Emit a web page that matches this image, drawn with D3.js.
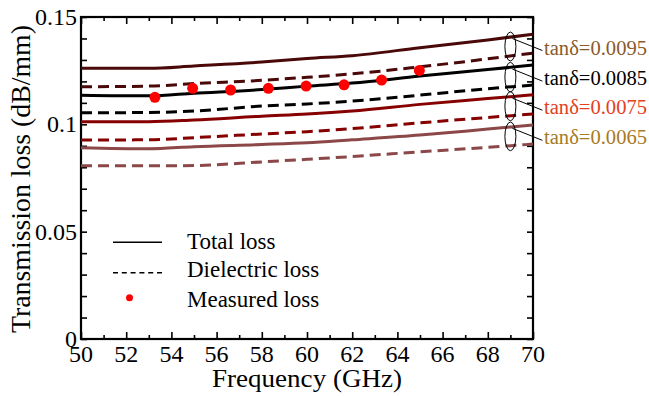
<!DOCTYPE html>
<html><head><meta charset="utf-8">
<script src="https://cdn.jsdelivr.net/npm/d3@7"></script>
<style>body{margin:0;background:#fff}svg{display:block}</style>
</head><body>
<svg id="c" width="649" height="396" font-family="'Liberation Serif', 'DejaVu Serif', 'Times New Roman', serif"></svg>
<script>
const freq = [50, 53, 55, 58, 60, 62, 65, 68, 70];
const total0095 = [0.1261, 0.1261, 0.1272, 0.1290, 0.1307, 0.1320, 0.1357, 0.1393, 0.1420];
const diel0095  = [0.1175, 0.1178, 0.1190, 0.1205, 0.1219, 0.1235, 0.1268, 0.1305, 0.1332];
const total0085 = [0.1136, 0.1133, 0.1145, 0.1162, 0.1178, 0.1192, 0.1225, 0.1255, 0.1276];
const diel0085  = [0.1054, 0.1055, 0.1062, 0.1085, 0.1095, 0.1108, 0.1136, 0.1166, 0.1183];
const total0075 = [0.1012, 0.1012, 0.1020, 0.1038, 0.1048, 0.1062, 0.1093, 0.1120, 0.1138];
const diel0075  = [0.0927, 0.0928, 0.0938, 0.0955, 0.0966, 0.0980, 0.1007, 0.1032, 0.1048];
const total0065 = [0.0891, 0.0886, 0.0896, 0.0906, 0.0914, 0.0928, 0.0950, 0.0978, 0.0997];
const diel0065  = [0.0807, 0.0807, 0.0808, 0.0825, 0.0837, 0.0850, 0.0872, 0.0893, 0.0908];
const measFreq = [53.27, 54.94, 56.62, 58.29, 59.96, 61.64, 63.30, 64.97];
const measLoss = [0.1126, 0.1168, 0.1160, 0.1168, 0.1178, 0.1184, 0.1206, 0.1251];
const tanLabels = ["tanδ=0.0095", "tanδ=0.0085", "tanδ=0.0075", "tanδ=0.0065"];
const xTicks = [50, 52, 54, 56, 58, 60, 62, 64, 66, 68, 70];
const yTickLabels = [0, 0.05, 0.1, 0.15];
const legendLabels = ["Total loss", "Dielectric loss", "Measured loss"];

const lineColors = ["#4a0808", "#000000", "#870000", "#8c4848"];
const labelColors = ["#8b5a2b", "#000000", "#e4401c", "#a67a1e"];
const pairs = [[total0095, diel0095], [total0085, diel0085], [total0075, diel0075], [total0065, diel0065]];

const svg = d3.select("#c");
const L = 81, R = 533, T = 17, B = 339;
const x = d3.scaleLinear().domain([50, 70]).range([L, R]);
const y = d3.scaleLinear().domain([0, 0.15]).range([B, T]);

function tickAxis(axis, tr) {
  const g = svg.append("g").attr("transform", tr).call(axis);
  g.attr("font-family", null);
  g.select(".domain").remove();
  g.selectAll("line").attr("stroke", "#000").attr("stroke-width", 1.6);
  g.selectAll("text").remove();
  return g;
}
const xMinor = d3.range(50, 71, 1);
const yMinor = d3.range(0, 0.1501, 0.01);
tickAxis(d3.axisBottom(x).tickValues(xMinor.filter(v => v % 2 === 0)).tickSize(-7), `translate(0,${B})`);
tickAxis(d3.axisBottom(x).tickValues(xMinor.filter(v => v % 2 === 1)).tickSize(-4), `translate(0,${B})`);
tickAxis(d3.axisTop(x).tickValues(xMinor.filter(v => v % 2 === 0)).tickSize(-7), `translate(0,${T})`);
tickAxis(d3.axisTop(x).tickValues(xMinor.filter(v => v % 2 === 1)).tickSize(-4), `translate(0,${T})`);
tickAxis(d3.axisLeft(y).tickValues(yMinor).tickSize(-6), `translate(${L},0)`);
tickAxis(d3.axisRight(y).tickValues(yMinor).tickSize(-6), `translate(${R},0)`);

svg.append("rect").attr("x", L).attr("y", T).attr("width", R - L).attr("height", B - T)
  .attr("fill", "none").attr("stroke", "#000").attr("stroke-width", 2.2);

svg.append("g").selectAll("text").data(xTicks).join("text")
  .attr("x", d => x(d)).attr("y", 362).attr("text-anchor", "middle")
  .attr("font-size", 24).text(d => d);
svg.append("g").selectAll("text").data(yTickLabels).join("text")
  .attr("x", 77).attr("y", d => y(d) + 8).attr("text-anchor", "end")
  .attr("font-size", 24).text(d => d);

svg.append("text").attr("x", 307).attr("y", 387).attr("text-anchor", "middle")
  .attr("font-size", 26).attr("textLength", 190).attr("lengthAdjust", "spacingAndGlyphs")
  .text("Frequency (GHz)");
svg.append("text").attr("transform", "translate(30,179) rotate(-90)").attr("text-anchor", "middle")
  .attr("font-size", 27).attr("textLength", 308).attr("lengthAdjust", "spacingAndGlyphs")
  .text("Transmission loss (dB/mm)");

const line = d3.line().x((d, i) => x(freq[i])).y(d => y(d)).curve(d3.curveMonotoneX);
const plot = svg.append("g");
pairs.forEach((p, k) => {
  plot.append("path").attr("d", line(p[0])).attr("fill", "none")
    .attr("stroke", lineColors[k]).attr("stroke-width", 3);
  plot.append("path").attr("d", line(p[1])).attr("fill", "none")
    .attr("stroke", lineColors[k]).attr("stroke-width", 3).attr("stroke-dasharray", "11,6");
});

plot.selectAll("circle.m").data(measFreq).join("circle").attr("class", "m")
  .attr("cx", d => x(d)).attr("cy", (d, i) => y(measLoss[i])).attr("r", 5.5).attr("fill", "#ff0000");

const fAnn = 69.0;
const iA = freq.indexOf(68);
pairs.forEach((p, k) => {
  const ys = p[0][iA] + (p[0][iA + 1] - p[0][iA]) * (fAnn - 68) / 2;
  const yd = p[1][iA] + (p[1][iA + 1] - p[1][iA]) * (fAnn - 68) / 2;
  const cx = x(fAnn), cy = (y(ys) + y(yd)) / 2;
  const ry = Math.abs(y(yd) - y(ys)) / 2 + 5;
  svg.append("ellipse").attr("cx", cx).attr("cy", cy).attr("rx", 5.5).attr("ry", ry)
    .attr("fill", "none").attr("stroke", "#000").attr("stroke-width", 1);
  svg.append("line").attr("x1", cx + 2).attr("y1", cy - 8).attr("x2", cx + 32).attr("y2", cy + 4)
    .attr("stroke", "#000").attr("stroke-width", 1);
  svg.append("text").attr("x", 544).attr("y", cy + 8).attr("font-size", 20)
    .attr("fill", labelColors[k]).attr("textLength", 103).attr("lengthAdjust", "spacingAndGlyphs")
    .text(tanLabels[k]);
});

const lg = svg.append("g");
const ly = [242.3, 272.7, 297.7];
lg.append("line").attr("x1", 113).attr("x2", 162).attr("y1", ly[0]).attr("y2", ly[0])
  .attr("stroke", "#000").attr("stroke-width", 1.5);
lg.append("line").attr("x1", 113).attr("x2", 162).attr("y1", ly[1]).attr("y2", ly[1])
  .attr("stroke", "#000").attr("stroke-width", 1.5).attr("stroke-dasharray", "5,3.8");
lg.append("circle").attr("cx", 129.5).attr("cy", ly[2]).attr("r", 3.5).attr("fill", "#ff0000");
lg.selectAll("text").data(legendLabels).join("text")
  .attr("x", 187).attr("y", (d, i) => [248.5, 277, 306.5][i]).attr("font-size", 23).text(d => d);
</script>
</body></html>
